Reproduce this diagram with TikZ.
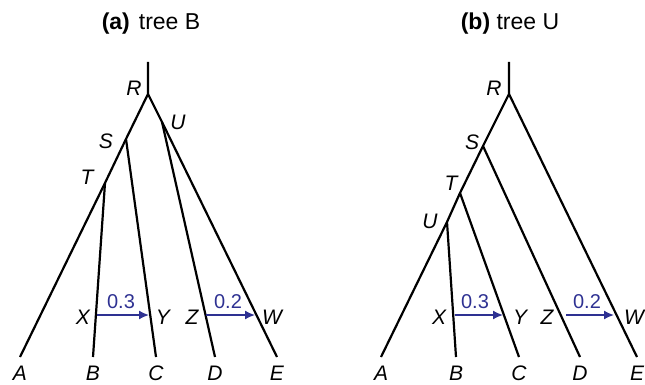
\documentclass[tikz,border=0pt]{standalone}
\usepackage{fontspec}
\setmainfont{Liberation Sans}
\usetikzlibrary{arrows.meta,positioning}
\definecolor{shiftBlue}{RGB}{46,49,146}
\tikzset{
  treeEdge/.style={line width=2.2pt},
  vertexLabel/.style={font=\fontsize{21}{23}\selectfont\itshape, inner sep=0pt},
  leafLabel/.style={vertexLabel},
  shiftArrow/.style={-{Latex[length=10pt,width=9pt]}, line width=1.6pt, draw=shiftBlue},
  shiftValue/.style={font=\fontsize{20}{22}\selectfont, text=shiftBlue, inner sep=0pt},
  panelTitle/.style={font=\fontsize{23}{25}\selectfont, inner sep=0pt}
}

\begin{document}
\begin{tikzpicture}[x=1pt,y=-1pt]
  \useasboundingbox (0,0) rectangle (645,385);

  % (a) tree B
  \node[panelTitle] (aTitle) at (151,24) {\textbf{(a)}\hspace{9pt}tree B};
  \coordinate (aTop) at (148,62);
  \coordinate (aR) at (148,94);
  \coordinate (aS) at (126,139);
  \coordinate (aT) at (105,183);
  \coordinate (aU) at (162,122);
  \coordinate (aA) at (20,357);
  \coordinate (aB) at (93,357);
  \coordinate (aC) at (156,357);
  \coordinate (aD) at (215,357);
  \coordinate (aE) at (277,357);
  \draw[treeEdge] (aTop) -- (aR) -- (aS) -- (aT) -- (aA);
  \draw[treeEdge] (aT) -- (aB);
  \draw[treeEdge] (aS) -- (aC);
  \draw[treeEdge] (aR) -- (aU) -- (aE);
  \draw[treeEdge] (aU) -- (aD);
  \node[vertexLabel] (aLabR) at (134,88) {R};
  \node[vertexLabel] (aLabS) at (106,141) {S};
  \node[vertexLabel] (aLabT) at (87,177) {T};
  \node[vertexLabel] (aLabU) at (178,122) {U};
  \node[leafLabel, below=9pt of aA] (aLabA) {A};
  \node[leafLabel, below=9pt of aB] (aLabB) {B};
  \node[leafLabel, below=9pt of aC] (aLabC) {C};
  \node[leafLabel, below=9pt of aD] (aLabD) {D};
  \node[leafLabel, below=9pt of aE] (aLabE) {E};

  \coordinate (aX) at (97,315);
  \coordinate (aY) at (149,315);
  \coordinate (aZ) at (206,315);
  \coordinate (aW) at (255,315);
  \draw[shiftArrow] (aX) -- (aY);
  \draw[shiftArrow] (aZ) -- (aW);
  \node[vertexLabel] (aLabX) at (83,317) {X};
  \node[vertexLabel] (aLabY) at (163,317) {Y};
  \node[vertexLabel] (aLabZ) at (192,317) {Z};
  \node[vertexLabel] (aLabW) at (272,317) {W};
  \node[shiftValue] (aValXY) at (121,302) {0.3};
  \node[shiftValue] (aValZW) at (228,302) {0.2};

  % (b) tree U
  \node[panelTitle] (bTitle) at (510,24) {\textbf{(b)} tree U};
  \coordinate (bTop) at (509,62);
  \coordinate (bR) at (509,94);
  \coordinate (bS) at (483,146);
  \coordinate (bT) at (460,193);
  \coordinate (bU) at (447,222);
  \coordinate (bA) at (381,357);
  \coordinate (bB) at (456,357);
  \coordinate (bC) at (519,357);
  \coordinate (bD) at (580,357);
  \coordinate (bE) at (637,357);
  \draw[treeEdge] (bTop) -- (bR) -- (bS) -- (bT) -- (bU) -- (bA);
  \draw[treeEdge] (bU) -- (bB);
  \draw[treeEdge] (bT) -- (bC);
  \draw[treeEdge] (bS) -- (bD);
  \draw[treeEdge] (bR) -- (bE);
  \node[vertexLabel] (bLabR) at (494,88) {R};
  \node[vertexLabel] (bLabS) at (472,142) {S};
  \node[vertexLabel] (bLabT) at (451,183) {T};
  \node[vertexLabel] (bLabU) at (430,221) {U};
  \node[leafLabel, below=9pt of bA] (bLabA) {A};
  \node[leafLabel, below=9pt of bB] (bLabB) {B};
  \node[leafLabel, below=9pt of bC] (bLabC) {C};
  \node[leafLabel, below=9pt of bD] (bLabD) {D};
  \node[leafLabel, below=9pt of bE] (bLabE) {E};

  \coordinate (bX) at (455,315);
  \coordinate (bY) at (503,315);
  \coordinate (bZ) at (566,315);
  \coordinate (bW) at (614,315);
  \draw[shiftArrow] (bX) -- (bY);
  \draw[shiftArrow] (bZ) -- (bW);
  \node[vertexLabel] (bLabX) at (439,317) {X};
  \node[vertexLabel] (bLabY) at (520,317) {Y};
  \node[vertexLabel] (bLabZ) at (547,317) {Z};
  \node[vertexLabel] (bLabW) at (634,317) {W};
  \node[shiftValue] (bValXY) at (475,302) {0.3};
  \node[shiftValue] (bValZW) at (587,302) {0.2};
\end{tikzpicture}
\end{document}
